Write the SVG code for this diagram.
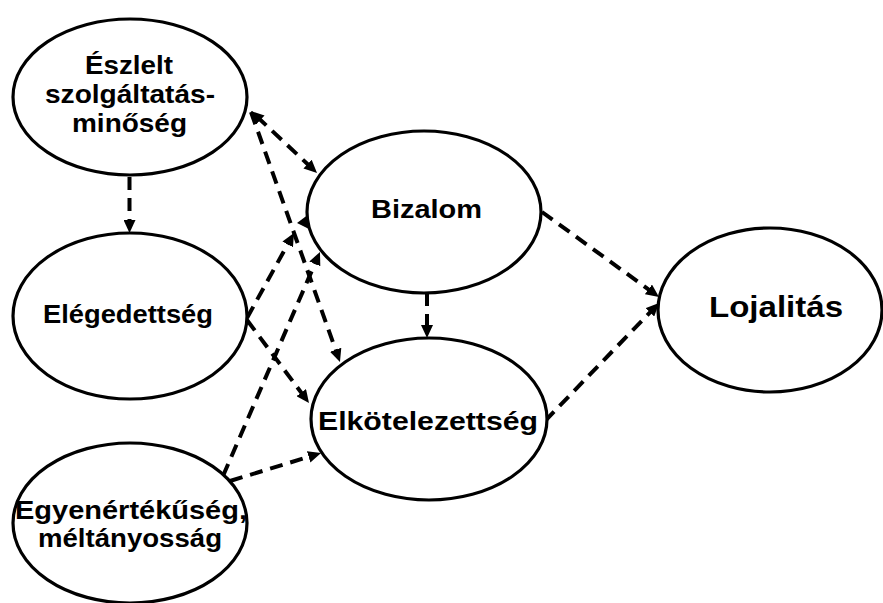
<svg xmlns="http://www.w3.org/2000/svg" width="883" height="603" viewBox="0 0 883 603">
  <style>
    .node ellipse { fill: #ffffff; stroke: #000000; stroke-width: 3.2; }
    .node text { font-family: "Liberation Sans", Arial, sans-serif; font-weight: bold; font-size: 26.5px; fill: #000000; }
    .link { fill: none; stroke: #000000; stroke-width: 4; stroke-dasharray: 13 8; marker-end: url(#head); }
    .twoway { marker-start: url(#head); }
  </style>
  <defs>
    <marker id="head" markerUnits="userSpaceOnUse" markerWidth="14" markerHeight="12" refX="5" refY="6" orient="auto-start-reverse">
      <path d="M0,0 L13,6 L0,12 z" fill="#000000"/>
    </marker>
  </defs>
  <rect width="883" height="603" fill="#ffffff"/>

  <g id="connectors">
    <path class="link" d="M129.5,177 L129.5,225"/>
    <path class="link twoway" d="M256.8,116.5 L311.2,167.5"/>
    <path class="link" d="M251,112 L337.3,354.5"/>
    <path class="link" d="M247,318 L290.1,240"/>
    <path class="link" d="M223,476 L316.8,259.3"/>
    <path class="link" d="M247,320 L304.2,396.6"/>
    <path class="link" d="M230,481 L313.4,455.4"/>
    <path class="link" d="M427,293 L427,330"/>
    <path class="link" d="M542,212 L652.5,292.3"/>
    <path class="link" d="M545,421 L653.4,308.8"/>
    <polygon points="297,223 309,214 309,229" fill="#000000"/>
  </g>

  <g id="eszlelt" class="node">
    <ellipse cx="130" cy="97" rx="117" ry="78"/>
    <text x="85" y="74" textLength="88" lengthAdjust="spacingAndGlyphs">Észlelt</text>
    <text x="45" y="103" textLength="170" lengthAdjust="spacingAndGlyphs">szolgáltatás-</text>
    <text x="72" y="132" textLength="115" lengthAdjust="spacingAndGlyphs">minőség</text>
  </g>

  <g id="elegedettseg" class="node">
    <ellipse cx="130" cy="316" rx="117" ry="83"/>
    <text x="43" y="323" textLength="170" lengthAdjust="spacingAndGlyphs">Elégedettség</text>
  </g>

  <g id="egyenertekuseg" class="node">
    <ellipse cx="130" cy="523" rx="117" ry="80"/>
    <text x="15" y="519" textLength="232" lengthAdjust="spacingAndGlyphs" style="font-size:25px">Egyenértékűség,</text>
    <text x="38" y="547" textLength="184" lengthAdjust="spacingAndGlyphs" style="font-size:25px">méltányosság</text>
  </g>

  <g id="bizalom" class="node">
    <ellipse cx="424" cy="212" rx="117" ry="81"/>
    <text x="371" y="218" textLength="111" lengthAdjust="spacingAndGlyphs">Bizalom</text>
  </g>

  <g id="elkotelezettseg" class="node">
    <ellipse cx="429" cy="419" rx="118" ry="81"/>
    <text x="318" y="430" textLength="220" lengthAdjust="spacingAndGlyphs">Elkötelezettség</text>
  </g>

  <g id="lojalitas" class="node">
    <ellipse cx="770" cy="310" rx="112" ry="82"/>
    <text x="709" y="317" textLength="134" lengthAdjust="spacingAndGlyphs" style="font-size:30px">Lojalitás</text>
  </g>
</svg>
